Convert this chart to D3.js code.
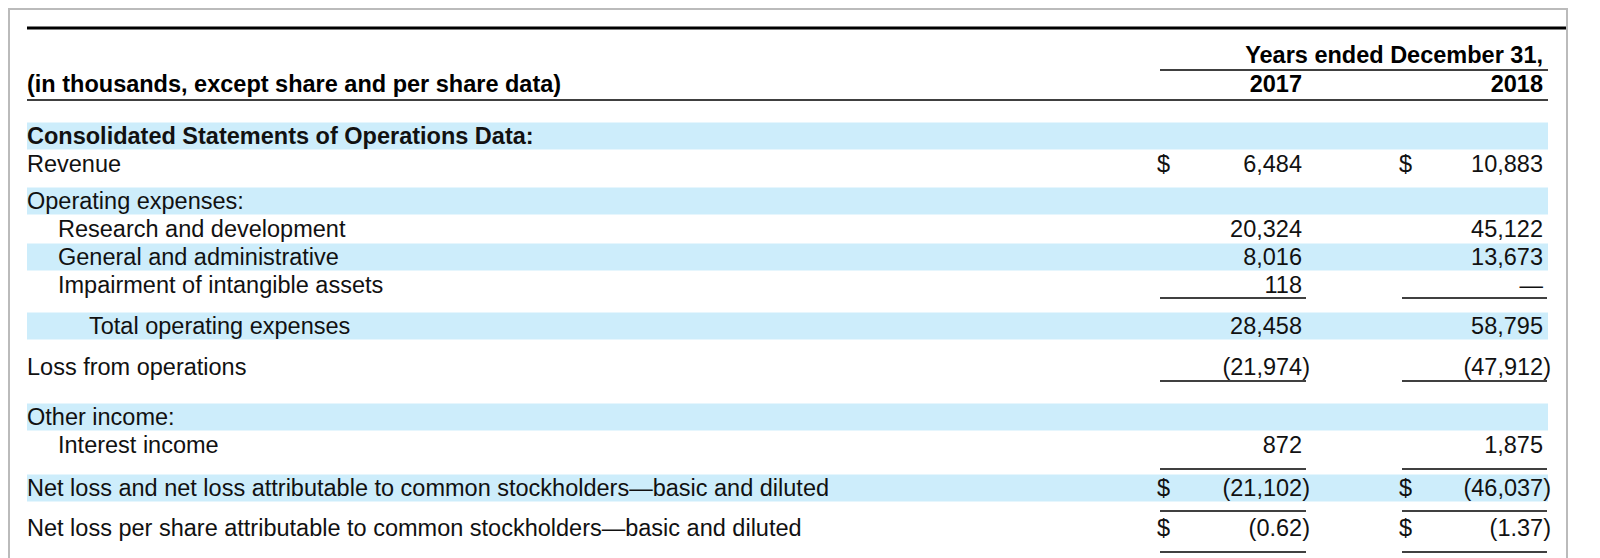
<!DOCTYPE html>
<html><head><meta charset="utf-8">
<script src="https://cdn.jsdelivr.net/npm/d3@7"></script>
<style>body{margin:0;background:#fff}svg{display:block;font-family:"Liberation Sans",Arial,sans-serif}</style>
</head><body><svg id="c" width="1600" height="558"></svg>
<script>
const labels=["Consolidated Statements of Operations Data:","Revenue","Operating expenses:","Research and development","General and administrative","Impairment of intangible assets","Total operating expenses","Loss from operations","Other income:","Interest income","Net loss and net loss attributable to common stockholders\u2014basic and diluted","Net loss per share attributable to common stockholders\u2014basic and diluted"];
const indent=[0,0,0,1,1,1,2,0,0,1,0,0];
const bold=[1,0,0,0,0,0,0,0,0,0,0,0];
const shaded=[1,0,1,0,1,0,1,0,1,0,1,0];
const dollar=[0,1,0,0,0,0,0,0,0,0,1,1];
const v2017=[null,"6,484",null,"20,324","8,016","118","28,458","(21,974)",null,"872","(21,102)","(0.62)"];
const v2018=[null,"10,883",null,"45,122","13,673","\u2014","58,795","(47,912)",null,"1,875","(46,037)","(1.37)"];
const underline=[0,0,0,0,0,1,0,1,0,1,1,1];
const years=["2017","2018"];

const FS=23.5;
const svg=d3.select("#c");
svg.append("rect").attr("x",9).attr("y",9).attr("width",1558).attr("height",560).attr("fill","none").attr("stroke","#bbb").attr("stroke-width",2);
svg.append("line").attr("x1",27).attr("x2",1566).attr("y1",28).attr("y2",28).attr("stroke","#000").attr("stroke-width",3);
const L=27,R=1548;
svg.append("text").attr("x",L).attr("y",92).attr("font-size",FS).attr("font-weight","bold").text("(in thousands, except share and per share data)");
svg.append("line").attr("x1",L).attr("x2",R).attr("y1",100).attr("y2",100).attr("stroke","#000").attr("stroke-width",1.5);
svg.append("text").attr("x",1543).attr("y",63).attr("text-anchor","end").attr("font-size",FS).attr("font-weight","bold").text("Years ended December 31,");
svg.append("line").attr("x1",1160).attr("x2",R).attr("y1",70).attr("y2",70).attr("stroke","#000").attr("stroke-width",1.5);
const colX=d3.scaleOrdinal().domain(years).range([1302,1543]);
const dolX=d3.scaleOrdinal().domain(years).range([1157,1399]);
years.forEach(y=>svg.append("text").attr("x",colX(y)).attr("y",92).attr("text-anchor","end").attr("font-size",FS).attr("font-weight","bold").text(y));
const gapAfter=[0,9,0,0,0,13,13,22,0,15,12,0];
const yc=[];let cur=136;
labels.forEach((l,i)=>{yc.push(cur);cur+=28+gapAfter[i];});
labels.forEach((l,i)=>{
  if(shaded[i]) svg.append("rect").attr("x",L).attr("width",R-L).attr("y",yc[i]-13.5).attr("height",27).attr("fill","#cdedfb");
});
labels.forEach((l,i)=>{
  const y=yc[i]+8;
  svg.append("text").attr("x",L+indent[i]*31).attr("y",y).attr("font-size",FS).attr("font-weight",bold[i]?"bold":"normal").attr("fill","#111").text(l);
  [[years[0],v2017[i]],[years[1],v2018[i]]].forEach(([yr,v])=>{
    if(v!==null){
      const p=v.endsWith(")");
      svg.append("text").attr("x",colX(yr)+(p?8:0)).attr("y",y).attr("text-anchor","end").attr("font-size",FS).attr("fill","#111").text(v);
    }
    if(dollar[i]) svg.append("text").attr("x",dolX(yr)).attr("y",y).attr("font-size",FS).attr("fill","#111").text("$");
  });
});
const ulY={5:298,7:381,9:469,10:511,11:552};
labels.forEach((l,i)=>{
  if(!underline[i]) return;
  years.forEach(yr=>svg.append("line").attr("x1",dolX(yr)+3).attr("x2",colX(yr)+4).attr("y1",ulY[i]).attr("y2",ulY[i]).attr("stroke","#000").attr("stroke-width",1.5));
});
</script></body></html>
